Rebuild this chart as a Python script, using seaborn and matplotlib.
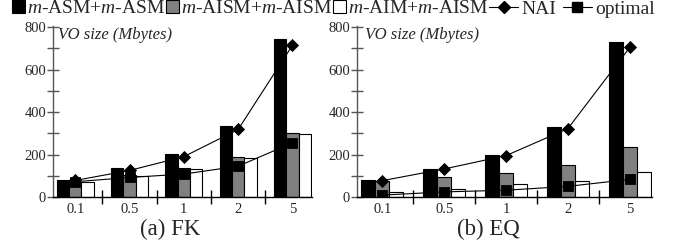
import numpy as np
import pandas as pd
import matplotlib
matplotlib.use("Agg")
import matplotlib.pyplot as plt
import seaborn as sns
from matplotlib.patches import Patch
from matplotlib.lines import Line2D
from matplotlib.ticker import MultipleLocator, FixedLocator

# selectivity (%) on the x axis
selectivity = ['0.1', '0.5', '1', '2', '5']
methods = ['m-ASM+m-ASM', 'm-AISM+m-AISM', 'm-AIM+m-AISM']
method_labels = ['$m$-ASM+$m$-ASM', '$m$-AISM+$m$-AISM', '$m$-AIM+$m$-AISM']
bar_colors = ['black', '#808080', 'white']

# (a) FK, VO size in Mbytes
fk_asm = [80, 135, 203, 335, 745]
fk_aism = [72, 102, 135, 186, 302]
fk_aim = [72, 100, 130, 184, 298]
fk_nai = [78, 125, 190, 318, 714]
fk_optimal = [72, 92, 108, 145, 255]

# (b) EQ
eq_asm = [80, 132, 198, 331, 731]
eq_aism = [76, 94, 114, 150, 237]
eq_aim = [25, 37, 59, 77, 120]
eq_nai = [77, 132, 195, 322, 704]
eq_optimal = [9, 24, 32, 50, 83]

sns.set_style("white")
plt.rcParams['font.family'] = ['Liberation Serif', 'DejaVu Serif']
plt.rcParams['mathtext.fontset'] = 'custom'
plt.rcParams['mathtext.rm'] = 'Liberation Serif'
plt.rcParams['mathtext.it'] = 'Liberation Serif:italic'

W, H = 676, 247
fig = plt.figure(figsize=(W / 100, H / 100), dpi=100)
ax_fk = fig.add_axes([53 / W, 1 - 197 / H, 259 / W, 171 / H])
ax_eq = fig.add_axes([357 / W, 1 - 197 / H, 295 / W, 171 / H])


def draw_panel(ax, asm, aism, aim, nai, optimal):
    bars = pd.DataFrame({
        'sel': selectivity * 3,
        'method': np.repeat(methods, len(selectivity)),
        'size': asm + aism + aim,
    })
    sns.barplot(data=bars, x='sel', y='size', hue='method', order=selectivity,
                hue_order=methods, palette=bar_colors, saturation=1, width=0.68,
                edgecolor='black', linewidth=0.8, legend=False, ax=ax)
    sns.pointplot(x=selectivity, y=nai, order=selectivity, color='black',
                  markers='D', markersize=6.5, linewidth=0.8, errorbar=None, ax=ax)
    sns.pointplot(x=selectivity, y=optimal, order=selectivity, color='black',
                  markers='s', markersize=6.5, linewidth=0.8, errorbar=None, ax=ax)

    ax.set_xlim(-0.41, 4.36)
    ax.set_ylim(0, 805)
    ax.set_xlabel('')
    ax.set_ylabel('')
    ax.set_yticks([0, 200, 400, 600, 800])
    ax.yaxis.set_minor_locator(MultipleLocator(100))
    ax.set_xticks(range(len(selectivity)))
    ax.set_xticklabels(selectivity)
    ax.xaxis.set_minor_locator(FixedLocator([0.5, 1.5, 2.5, 3.5]))

    ax.tick_params(axis='y', which='both', direction='inout', length=8, width=1,
                   color='#555555', left=True, labelsize=10.5, pad=1)
    ax.tick_params(axis='x', which='major', length=0, labelsize=10.5, pad=4)
    ax.tick_params(axis='x', which='minor', direction='inout', length=10,
                   width=1, color='black', bottom=True)

    for side in ['top', 'right']:
        ax.spines[side].set_visible(False)
    ax.spines['left'].set_color('#555555')
    ax.spines['left'].set_linewidth(1)
    ax.spines['bottom'].set_color('black')
    ax.spines['bottom'].set_linewidth(1)


draw_panel(ax_fk, fk_asm, fk_aism, fk_aim, fk_nai, fk_optimal)
draw_panel(ax_eq, eq_asm, eq_aism, eq_aim, eq_nai, eq_optimal)

fig.text(58 / W, 1 - 35 / H, 'VO size (Mbytes)', style='italic', fontsize=12, va='center')
fig.text(365 / W, 1 - 35 / H, 'VO size (Mbytes)', style='italic', fontsize=12, va='center')
fig.text(170 / W, 1 - 229 / H, '(a) FK', fontsize=16.5, ha='center', va='center')
fig.text(488 / W, 1 - 229 / H, '(b) EQ', fontsize=16.5, ha='center', va='center')

bar_handles = [Patch(facecolor=c, edgecolor='black', linewidth=0.8) for c in bar_colors]
fig.legend(handles=bar_handles, labels=method_labels, loc='upper left',
           bbox_to_anchor=(12 / W, 1.0), ncol=3, frameon=False, fontsize=14,
           handlelength=0.65, handleheight=0.62, handletextpad=0.12,
           columnspacing=0.05, borderpad=0, borderaxespad=0)

line_handles = [
    Line2D([], [], color='black', marker='D', markersize=6.5, linewidth=0.8),
    Line2D([], [], color='black', marker='s', markersize=6.5, linewidth=0.8),
]
fig.legend(handles=line_handles, labels=['NAI', 'optimal'], loc='upper left',
           bbox_to_anchor=(489 / W, 1.0), ncol=2, frameon=False, fontsize=14,
           handlelength=1.5, handletextpad=0.15, columnspacing=0.35,
           borderpad=0, borderaxespad=0)

fig.savefig('out.png', dpi=100)
